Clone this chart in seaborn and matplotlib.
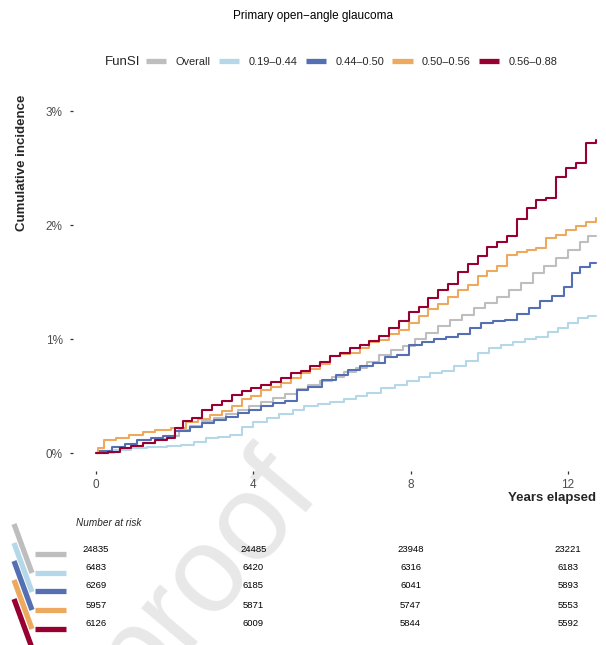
import numpy as np
import pandas as pd
import matplotlib
matplotlib.use("Agg")
import matplotlib.pyplot as plt
from matplotlib.lines import Line2D
from matplotlib.transforms import blended_transform_factory
import seaborn as sns

# ---- data -----------------------------------------------------------------
groups = ["Overall", "0.19–0.44", "0.44–0.50", "0.50–0.56", "0.56–0.88"]
colors = ["#BEBEBE", "#B5D8E8", "#5470B3", "#EDA95E", "#980031"]

# cumulative incidence (%) step functions: event times (years) and values
overall_t = [0, 0.3, 0.6, 0.9, 1.2, 1.5, 1.8, 2.1, 2.4, 2.7, 3.0, 3.3, 3.6, 3.9,
             4.2, 4.5, 4.8, 5.1, 5.4, 5.7, 6.0, 6.3, 6.6, 6.9, 7.2, 7.5, 7.8,
             8.1, 8.4, 8.7, 9.0, 9.3, 9.6, 9.9, 10.2, 10.5, 10.8, 11.1, 11.4,
             11.7, 12.0, 12.3, 12.5, 12.71]
overall_ci = [0, 0.02, 0.04, 0.06, 0.09, 0.12, 0.15, 0.20, 0.24, 0.28, 0.31,
              0.34, 0.38, 0.41, 0.45, 0.48, 0.52, 0.56, 0.60, 0.63, 0.67, 0.71,
              0.75, 0.80, 0.86, 0.90, 0.94, 1.00, 1.05, 1.11, 1.17, 1.21, 1.27,
              1.32, 1.37, 1.43, 1.49, 1.58, 1.64, 1.71, 1.78, 1.85, 1.90, 1.90]

q1_t = [0, 0.45, 0.9, 1.3, 1.8, 2.15, 2.5, 2.8, 3.1, 3.4, 3.7, 4.0, 4.35, 4.65,
        5.0, 5.3, 5.65, 5.95, 6.3, 6.6, 6.9, 7.25, 7.6, 7.9, 8.2, 8.5, 8.8, 9.1,
        9.4, 9.7, 10.0, 10.3, 10.6, 10.9, 11.2, 11.5, 11.75, 12.0, 12.25, 12.5,
        12.71]
q1_ci = [0, 0.03, 0.04, 0.055, 0.06, 0.07, 0.10, 0.13, 0.14, 0.16, 0.23, 0.27,
         0.31, 0.34, 0.38, 0.41, 0.43, 0.45, 0.47, 0.50, 0.53, 0.57, 0.60, 0.63,
         0.67, 0.70, 0.72, 0.76, 0.81, 0.88, 0.92, 0.95, 0.97, 1.00, 1.02, 1.06,
         1.10, 1.14, 1.18, 1.20, 1.20]

q2_t = [0, 0.05, 0.4, 0.75, 1.05, 1.4, 1.7, 2.0, 2.4, 2.7, 3.0, 3.3, 3.6, 3.9,
        4.2, 4.5, 4.8, 5.1, 5.4, 5.75, 6.1, 6.4, 6.7, 7.05, 7.35, 7.65, 7.95,
        8.3, 8.6, 8.9, 9.2, 9.5, 9.8, 10.1, 10.4, 10.7, 11.0, 11.3, 11.6, 11.9,
        12.1, 12.3, 12.55, 12.71]
q2_ci = [0, 0.02, 0.055, 0.08, 0.11, 0.13, 0.15, 0.19, 0.23, 0.26, 0.29, 0.32,
         0.35, 0.38, 0.41, 0.44, 0.46, 0.55, 0.58, 0.64, 0.68, 0.73, 0.76, 0.79,
         0.84, 0.86, 0.95, 0.97, 1.00, 1.02, 1.04, 1.10, 1.14, 1.16, 1.17, 1.22,
         1.27, 1.33, 1.38, 1.46, 1.58, 1.63, 1.67, 1.67]

q3_t = [0, 0.05, 0.2, 0.5, 0.85, 1.2, 1.5, 1.9, 2.3, 2.6, 2.9, 3.2, 3.45, 3.7,
        3.95, 4.2, 4.45, 4.7, 4.95, 5.2, 5.45, 5.7, 5.95, 6.2, 6.45, 6.7, 6.95,
        7.2, 7.45, 7.7, 7.95, 8.2, 8.45, 8.7, 8.95, 9.2, 9.45, 9.7, 9.95, 10.2,
        10.45, 10.7, 10.95, 11.2, 11.45, 11.7, 11.95, 12.2, 12.45, 12.71]
q3_ci = [0, 0.04, 0.11, 0.13, 0.16, 0.18, 0.20, 0.22, 0.27, 0.30, 0.33, 0.37,
         0.41, 0.47, 0.50, 0.55, 0.58, 0.61, 0.66, 0.70, 0.74, 0.78, 0.85, 0.87,
         0.88, 0.92, 0.97, 0.99, 1.04, 1.08, 1.14, 1.20, 1.26, 1.31, 1.37, 1.43,
         1.47, 1.55, 1.60, 1.64, 1.74, 1.76, 1.78, 1.80, 1.89, 1.91, 1.96, 1.99,
         2.03, 2.06]

q4_t = [0, 0.3, 0.6, 0.9, 1.2, 1.5, 1.8, 2.0, 2.2, 2.45, 2.7, 2.95, 3.2, 3.45,
        3.7, 3.95, 4.2, 4.45, 4.7, 4.95, 5.2, 5.45, 5.7, 5.95, 6.2, 6.45, 6.7,
        6.95, 7.2, 7.45, 7.7, 7.95, 8.2, 8.45, 8.7, 8.95, 9.2, 9.45, 9.7, 9.95,
        10.2, 10.45, 10.7, 10.95, 11.2, 11.45, 11.7, 11.95, 12.2, 12.45, 12.71]
q4_ci = [0, 0.01, 0.04, 0.06, 0.09, 0.11, 0.13, 0.22, 0.28, 0.31, 0.38, 0.42,
         0.46, 0.51, 0.54, 0.57, 0.60, 0.62, 0.66, 0.70, 0.72, 0.76, 0.80, 0.85,
         0.88, 0.92, 0.95, 0.98, 1.03, 1.10, 1.16, 1.24, 1.28, 1.36, 1.43, 1.48,
         1.59, 1.66, 1.73, 1.81, 1.85, 1.90, 2.05, 2.15, 2.22, 2.24, 2.42, 2.50,
         2.54, 2.72, 2.75]

# number at risk table
risk_times = [0, 4, 8, 12]
risk_overall = [24835, 24485, 23948, 23221]
risk_q1 = [6483, 6420, 6316, 6183]
risk_q2 = [6269, 6185, 6041, 5893]
risk_q3 = [5957, 5871, 5747, 5553]
risk_q4 = [6126, 6009, 5844, 5592]

x_ticks = [0, 4, 8, 12]
y_ticks = [0, 1, 2, 3]
y_tick_labels = ["0%", "1%", "2%", "3%"]

# ---- assemble long table --------------------------------------------------
series_t = [overall_t, q1_t, q2_t, q3_t, q4_t]
series_ci = [overall_ci, q1_ci, q2_ci, q3_ci, q4_ci]
frames = [pd.DataFrame({"years": t, "ci": v, "group": g})
          for g, t, v in zip(groups, series_t, series_ci)]
df = pd.concat(frames, ignore_index=True)
risk = [risk_overall, risk_q1, risk_q2, risk_q3, risk_q4]

# ---- figure ---------------------------------------------------------------
sns.set_theme(style="white")
plt.rcParams["font.family"] = ["Liberation Sans", "DejaVu Sans"]

W, H = 606, 645
fig = plt.figure(figsize=(W / 100, H / 100), dpi=100)

def fx(px):
    return px / W

def fy(py):
    return 1 - py / H

# watermark
fig.text(fx(205), fy(575), "proof", rotation=50, fontsize=88,
         color="#E8E8E8", ha="center", va="center", zorder=0.5,
         rotation_mode="anchor")

ax = fig.add_axes([fx(73), fy(471), fx(600) - fx(73), (471 - 100) / H])
ax.set_facecolor("none")
ax.set_zorder(1)

sns.lineplot(data=df, x="years", y="ci", hue="group", hue_order=groups,
             palette=colors, estimator=None, drawstyle="steps-post",
             linewidth=1.5, legend=False, ax=ax)

px_per_year = 39.33
px_per_pct = 114.0
ax.set_xlim((73 - 96) / px_per_year, (600 - 96) / px_per_year)
ax.set_ylim((453 - 471) / px_per_pct, (453 - 100) / px_per_pct)
ax.set_xticks(x_ticks)
ax.set_xticklabels([str(v) for v in x_ticks])
ax.set_yticks(y_ticks)
ax.set_yticklabels(y_tick_labels)
ax.set_xlabel("")
ax.set_ylabel("")
for s in ax.spines.values():
    s.set_visible(False)
ax.tick_params(axis="both", which="major", length=2.4, width=0.9,
               color="#333333", labelcolor="#4D4D4D", labelsize=8.5,
               bottom=True, left=True)
ax.tick_params(axis="y", pad=5)
ax.tick_params(axis="x", pad=3.5)

# titles
fig.text(fx(313), fy(16), "Primary open−angle glaucoma", ha="center",
         va="center", fontsize=8.5, color="black")
fig.text(fx(22), fy(95), "Cumulative incidence", rotation=90, ha="center",
         va="top", fontsize=9.5, fontweight="bold")
fig.text(fx(596), fy(498), "Years elapsed", ha="right", va="center",
         fontsize=9.5, fontweight="bold")

# legend
fig.text(fx(105), fy(62), "FunSI", ha="left", va="center", fontsize=9.5)
handles = [Line2D([], [], color=c, lw=3.8, solid_capstyle="butt")
           for c in colors]
fig.legend(handles, groups, loc="center left", bbox_to_anchor=(fx(146), fy(62)),
           ncol=5, frameon=False, fontsize=7.9, handlelength=1.85,
           handletextpad=0.85, columnspacing=0.75, borderpad=0,
           borderaxespad=0)

# number at risk table
fig.text(fx(76), fy(523), "Number at risk", ha="left", va="center",
         fontsize=7.2, style="italic")
row_y = [549, 568, 586, 605, 624]
btrans = blended_transform_factory(ax.transData, fig.transFigure)
for counts, yy in zip(risk, row_y):
    for t, n in zip(risk_times, counts):
        ax.text(t, fy(yy), str(n), transform=btrans, ha="center",
                va="center", fontsize=6.8, color="black", clip_on=False)

# colour keys beside the table rows
for i, (c, yy) in enumerate(zip(colors, row_y)):
    bar_y = yy + 5
    fig.add_artist(Line2D([fx(14), fx(32)], [fy(bar_y - 30), fy(bar_y + 19)],
                          color=c, lw=3.8, solid_capstyle="butt"))
    fig.add_artist(Line2D([fx(35), fx(66)], [fy(bar_y), fy(bar_y)],
                          color=c, lw=3.8, solid_capstyle="butt"))

fig.savefig("out.png", dpi=100)
